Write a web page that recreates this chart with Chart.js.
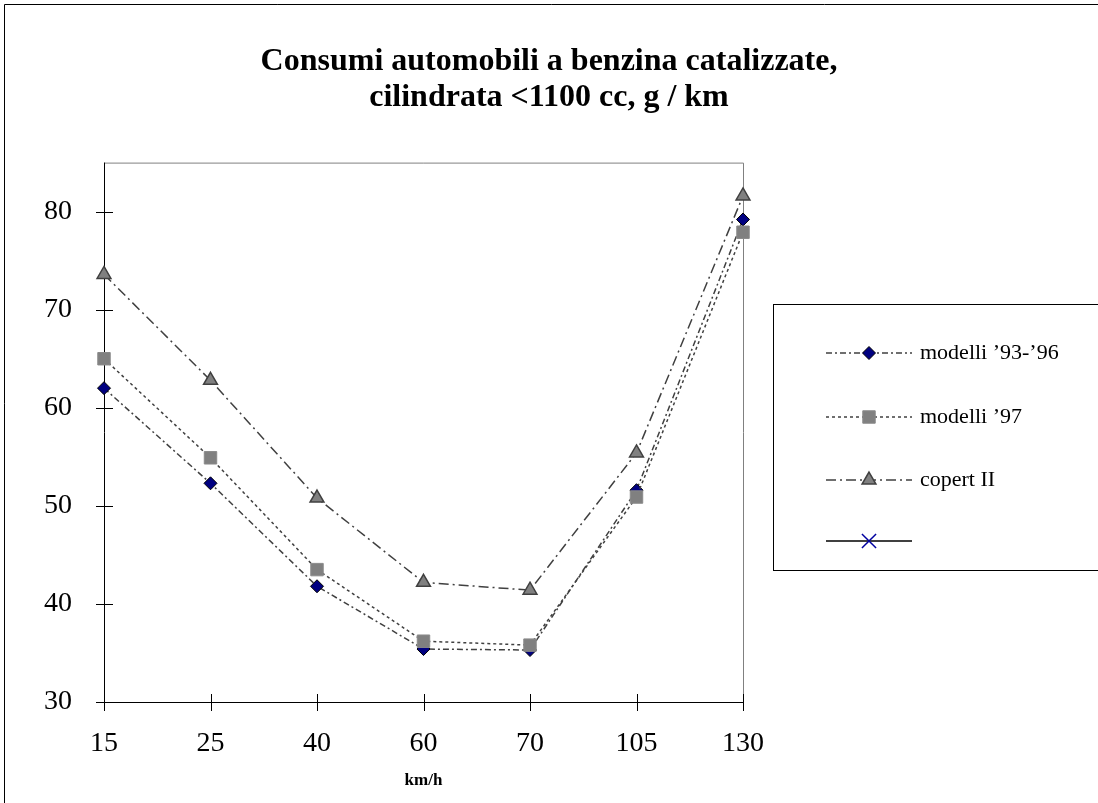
<!DOCTYPE html>
<html>
<head>
<meta charset="utf-8">
<script src="https://cdn.jsdelivr.net/npm/chart.js@4.4.1/dist/chart.umd.min.js"></script>
<style>
  html, body { margin: 0; padding: 0; background: #fff; }
</style>
</head>
<body>
<canvas id="c" width="1098" height="803"></canvas>
<script>
// speeds on the x axis (km/h)
const speeds = ['15', '25', '40', '60', '70', '105', '130'];
// consumption, g / km
const modelli9396 = [62.0, 52.3, 41.8, 35.4, 35.3, 51.6, 79.2];
const modelli97 = [65.0, 54.9, 43.5, 36.2, 35.8, 50.9, 77.9];
const copert2 = [73.6, 62.8, 50.8, 42.2, 41.4, 55.4, 81.6];
const seriesNames = ['modelli \u201993-\u201996', 'modelli \u201997', 'copert II', ''];
const yTicks = [30, 40, 50, 60, 70, 80];

const serif = "'Liberation Serif', 'Times New Roman', serif";

// outer frame, plot box, axes and the crossing tick marks
const frame = {
  id: 'frame',
  beforeDraw(chart) {
    const ctx = chart.ctx;
    const a = chart.chartArea;
    ctx.save();
    ctx.fillStyle = '#fff';
    ctx.fillRect(0, 0, chart.width, chart.height);
    ctx.strokeStyle = '#000';
    ctx.lineWidth = 1;
    ctx.beginPath();
    ctx.moveTo(4.5, chart.height);
    ctx.lineTo(4.5, 4.5);
    ctx.lineTo(chart.width, 4.5);
    ctx.stroke();
    // top and right of plot area in gray
    ctx.strokeStyle = '#808080';
    ctx.beginPath();
    ctx.moveTo(a.left, a.top + 0.5);
    ctx.lineTo(a.right + 0.5, a.top + 0.5);
    ctx.lineTo(a.right + 0.5, a.bottom);
    ctx.stroke();
    ctx.restore();
  },
  beforeDatasetsDraw(chart) {
    const ctx = chart.ctx;
    const a = chart.chartArea;
    const xs = chart.scales.x, ys = chart.scales.y;
    ctx.save();
    ctx.strokeStyle = '#000';
    ctx.lineWidth = 1;
    ctx.beginPath();
    ctx.moveTo(a.left + 0.5, a.top);
    ctx.lineTo(a.left + 0.5, a.bottom + 0.5);
    ctx.lineTo(a.right + 1, a.bottom + 0.5);
    for (let i = 0; i < ys.ticks.length; i++) {
      const y = Math.round(ys.getPixelForTick(i)) + 0.5;
      ctx.moveTo(a.left - 8, y);
      ctx.lineTo(a.left + 9, y);
    }
    for (let i = 0; i < xs.ticks.length; i++) {
      const x = Math.round(xs.getPixelForTick(i)) + 0.5;
      ctx.moveTo(x, a.bottom - 8);
      ctx.lineTo(x, a.bottom + 9);
    }
    ctx.stroke();
    ctx.restore();
  }
};

// boxed legend on the right
const boxLegend = {
  id: 'boxLegend',
  afterDraw(chart) {
    const ctx = chart.ctx;
    const rows = [353, 417, 480, 541];
    ctx.save();
    ctx.strokeStyle = '#000';
    ctx.lineWidth = 1;
    ctx.strokeRect(773.5, 304.5, 340, 266);
    chart.data.datasets.forEach((ds, i) => {
      const y = rows[i];
      ctx.strokeStyle = ds.borderColor;
      ctx.lineWidth = ds.borderWidth;
      ctx.setLineDash(ds.borderDash || []);
      ctx.beginPath();
      ctx.moveTo(826, y);
      ctx.lineTo(912, y);
      ctx.stroke();
      ctx.setLineDash([]);
      ctx.fillStyle = ds.pointBackgroundColor || 'transparent';
      ctx.strokeStyle = ds.pointBorderColor;
      ctx.lineWidth = ds.pointBorderWidth;
      if (Chart.helpers && Chart.helpers.drawPoint) {
        Chart.helpers.drawPoint(ctx, {
          pointStyle: ds.pointStyle, radius: ds.pointRadius,
          rotation: 0, borderWidth: ds.pointBorderWidth
        }, 869, y);
      }
      ctx.fillStyle = '#000';
      ctx.font = '22px ' + serif;
      ctx.textBaseline = 'middle';
      ctx.fillText(ds.label, 920, y);
    });
    ctx.restore();
  }
};

new Chart(document.getElementById('c'), {
  type: 'line',
  data: {
    labels: speeds,
    datasets: [
      {
        label: seriesNames[0], data: modelli9396, order: 3,
        borderColor: '#404040', borderWidth: 1.5, borderDash: [6, 3, 2, 3],
        pointStyle: 'rectRot', pointRadius: 6.5,
        pointBackgroundColor: '#000080', pointBorderColor: '#000', pointBorderWidth: 1
      },
      {
        label: seriesNames[1], data: modelli97, order: 2,
        borderColor: '#404040', borderWidth: 1.5, borderDash: [3, 3],
        pointStyle: 'rect', pointRadius: 8.8,
        pointBackgroundColor: '#808080', pointBorderColor: '#8a8a8a', pointBorderWidth: 1
      },
      {
        label: seriesNames[2], data: copert2, order: 1,
        borderColor: '#404040', borderWidth: 1.5, borderDash: [10, 4, 2, 4],
        pointStyle: 'triangle', pointRadius: 8,
        pointBackgroundColor: '#808080', pointBorderColor: '#404040', pointBorderWidth: 1.5
      },
      {
        label: seriesNames[3], data: [], order: 4,
        borderColor: '#000', borderWidth: 1.5,
        pointStyle: 'crossRot', pointRadius: 10,
        pointBackgroundColor: '#0000a0', pointBorderColor: '#0000a0', pointBorderWidth: 1.5
      }
    ]
  },
  options: {
    responsive: false,
    animation: false,
    devicePixelRatio: 1,
    layout: { padding: 0 },
    elements: { line: { tension: 0, fill: false } },
    plugins: {
      legend: { display: false },
      tooltip: { enabled: false },
      title: {
        display: true,
        text: ['Consumi automobili a benzina catalizzate,', 'cilindrata <1100 cc, g / km'],
        color: '#000',
        font: { family: serif, size: 32, weight: 'bold', lineHeight: 1.15 },
        padding: { top: 43, bottom: 46 }
      }
    },
    scales: {
      x: {
        type: 'category',
        offset: false,
        afterFit(s) { s.height = 101; },
        grid: { display: false, drawTicks: false },
        border: { display: false },
        ticks: { color: '#000', font: { family: serif, size: 28 }, padding: 25, maxRotation: 0, autoSkip: false },
        title: {
          display: true, text: 'km/h', color: '#000',
          font: { family: serif, size: 17, weight: 'bold' },
          padding: { top: 0, bottom: 12 }
        }
      },
      y: {
        min: 30, max: 85,
        afterFit(s) { s.width = 104; },
        afterBuildTicks(s) { s.ticks = yTicks.map(v => ({ value: v })); },
        grid: { display: false, drawTicks: false },
        border: { display: false },
        ticks: { color: '#000', font: { family: serif, size: 28 }, padding: 32 }
      },
      // empty right-hand box that keeps room for the legend
      yRoom: {
        position: 'right',
        afterFit(s) { s.width = 355; },
        grid: { display: false, drawTicks: false },
        border: { display: false },
        ticks: { display: false }
      }
    }
  },
  plugins: [frame, boxLegend]
});
</script>
</body>
</html>
